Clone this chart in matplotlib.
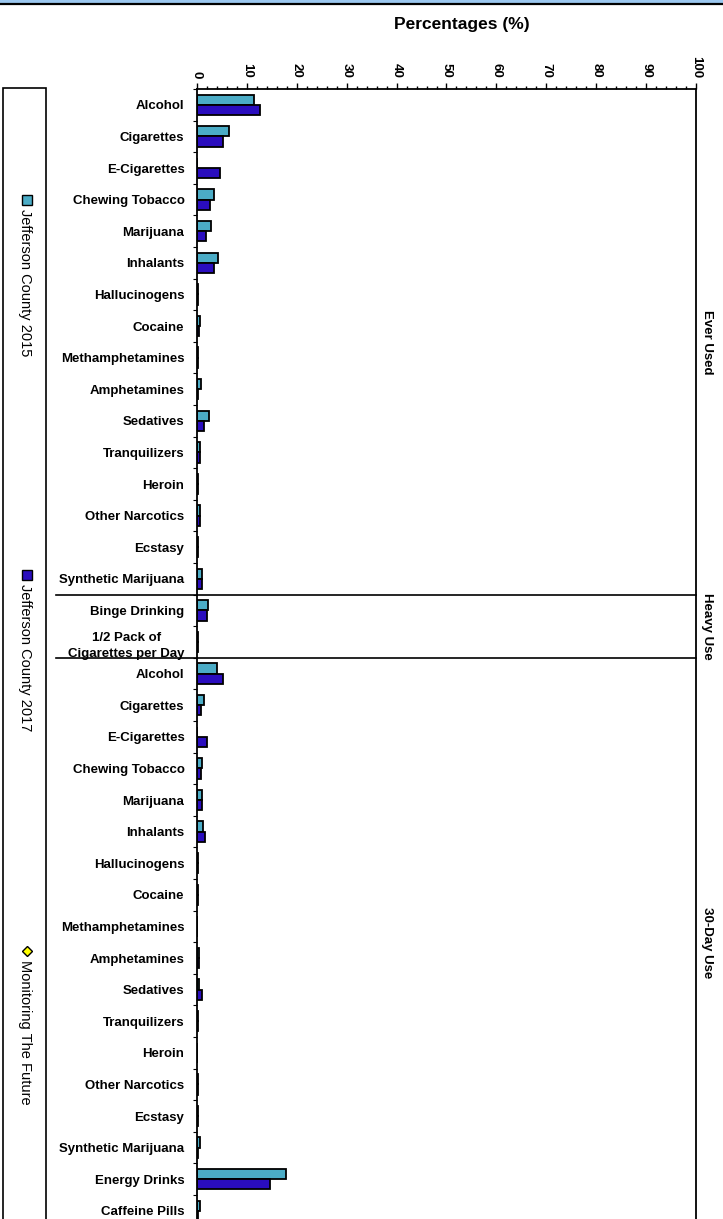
import numpy as np
import matplotlib
matplotlib.use('Agg')
import matplotlib.pyplot as plt
from matplotlib.patches import Rectangle
from matplotlib.lines import Line2D
from matplotlib.ticker import MultipleLocator

plt.rcParams['font.family'] = ['Liberation Sans', 'DejaVu Sans']

# ---- data ----
ever_used = ['Alcohol', 'Cigarettes', 'E-Cigarettes', 'Chewing Tobacco', 'Marijuana',
             'Inhalants', 'Hallucinogens', 'Cocaine', 'Methamphetamines', 'Amphetamines',
             'Sedatives', 'Tranquilizers', 'Heroin', 'Other Narcotics', 'Ecstasy',
             'Synthetic Marijuana']
heavy_use = ['Binge Drinking', '1/2 Pack of\nCigarettes per Day']
day30_use = ['Alcohol', 'Cigarettes', 'E-Cigarettes', 'Chewing Tobacco', 'Marijuana',
             'Inhalants', 'Hallucinogens', 'Cocaine', 'Methamphetamines', 'Amphetamines',
             'Sedatives', 'Tranquilizers', 'Heroin', 'Other Narcotics', 'Ecstasy',
             'Synthetic Marijuana', 'Energy Drinks', 'Caffeine Pills']
categories = ever_used + heavy_use + day30_use
groups = ['Ever Used', 'Heavy Use', '30-Day Use']
group_sizes = [len(ever_used), len(heavy_use), len(day30_use)]

jc_2015 = [11.4, 6.4, 0.0, 3.5, 2.8, 4.2, 0.2, 0.6, 0.3, 0.9, 2.5, 0.6, 0.2, 0.6, 0.2, 1.0,
           2.2, 0.3,
           4.1, 1.5, 0.0, 1.1, 1.1, 1.3, 0.2, 0.3, 0.0, 0.5, 0.5, 0.2, 0.1, 0.3, 0.2, 0.6,
           17.8, 0.6]
jc_2017 = [12.6, 5.2, 4.7, 2.6, 1.9, 3.5, 0.2, 0.5, 0.2, 0.2, 1.5, 0.6, 0.2, 0.6, 0.2, 1.0,
           2.0, 0.3,
           5.2, 0.9, 2.0, 0.9, 1.1, 1.7, 0.2, 0.2, 0.0, 0.5, 1.1, 0.2, 0.0, 0.2, 0.2, 0.3,
           14.7, 0.3]
series_names = ['Jefferson County 2015', 'Jefferson County 2017', 'Monitoring The Future']

c15 = '#4BACC6'
c17 = '#2A0DBE'
W, H = 723, 1219


def fx(px):
    return px / W


def fy(py):
    return 1 - py / H


fig = plt.figure(figsize=(W / 100, H / 100), dpi=100)

# axes (bottom runs past the picture edge, like the cropped original)
n = len(categories)
row_px = 31.6
ax_top, ax_left, ax_right = 89, 197, 696
ax = fig.add_axes([fx(ax_left), fy(ax_top + n * row_px), fx(ax_right - ax_left), n * row_px / H])

y = np.arange(n)
bh = 0.32
ax.barh(y - bh / 2, jc_2015, height=bh, color=c15, edgecolor='black', linewidth=1.3)
ax.barh(y + bh / 2, jc_2017, height=bh, color=c17, edgecolor='black', linewidth=1.3)

ax.set_xlim(0, 100)
ax.set_ylim(n - 0.5, -0.5)
ax.xaxis.tick_top()
ax.xaxis.set_major_locator(MultipleLocator(10))
ax.xaxis.set_minor_locator(MultipleLocator(2))
ax.tick_params(axis='x', which='major', length=4, width=1, pad=4, labelsize=9.5, direction='out')
ax.tick_params(axis='x', which='minor', length=2, width=1, direction='out')
for lab in ax.get_xticklabels():
    lab.set_rotation(-90)
    lab.set_fontweight('bold')
    lab.set_va('bottom')

ax.set_yticks(y)
ax.set_yticklabels(categories, fontsize=9.5, fontweight='bold', linespacing=1.5)
for lab in ax.get_yticklabels():
    if '\n' in lab.get_text():
        lab.set_multialignment('center')
ax.set_yticks(np.arange(n + 1) - 0.5, minor=True)
ax.tick_params(axis='y', which='major', length=0, pad=9)
ax.tick_params(axis='y', which='minor', length=3, width=0.8, direction='out')

for s in ['top', 'left', 'right']:
    ax.spines[s].set_linewidth(1.3)
ax.spines['bottom'].set_visible(False)

# section separators and section names
x_sep = (56 - ax_left) / (ax_right - ax_left) * 100
start = 0
for g, size in zip(groups, group_sizes):
    if start > 0:
        ax.plot([x_sep, 100], [start - 0.5, start - 0.5], color='black', lw=1.2, clip_on=False)
    ax.text(102.2, start + (size - 1) / 2, g, rotation=-90, ha='center', va='center',
            fontsize=9.5, fontweight='bold')
    start += size

fig.text(fx(462), fy(25), 'Percentages (%)', ha='center', va='center',
         fontsize=12.5, fontweight='bold')

# band along the top edge
fig.add_artist(Rectangle((0, fy(3)), 1, 3 / H, transform=fig.transFigure,
                         facecolor='#9CC8F0', edgecolor='none'))
fig.add_artist(Line2D([0, 1], [fy(4), fy(4)], transform=fig.transFigure, color='black', lw=1.6))

# legend box
fig.add_artist(Rectangle((fx(3), fy(1230)), fx(43), (1230 - 88) / H, transform=fig.transFigure,
                         facecolor='white', edgecolor='black', lw=1.2))
marker_y = [200, 575, 951]
marker_style = [dict(marker='s', color=c15), dict(marker='s', color=c17),
                dict(marker='D', color='#FFFF00')]
for name, my, st in zip(series_names, marker_y, marker_style):
    fig.add_artist(Line2D([fx(27)], [fy(my)], transform=fig.transFigure, marker=st['marker'],
                          markersize=6.5 if st['marker'] == 's' else 5.5, markerfacecolor=st['color'],
                          markeredgecolor='black', markeredgewidth=1.0, linestyle='none'))
    fig.text(fx(25), fy(my + 9), name, rotation=-90, ha='center', va='top', fontsize=10.5)

fig.savefig('out.png', dpi=100)
